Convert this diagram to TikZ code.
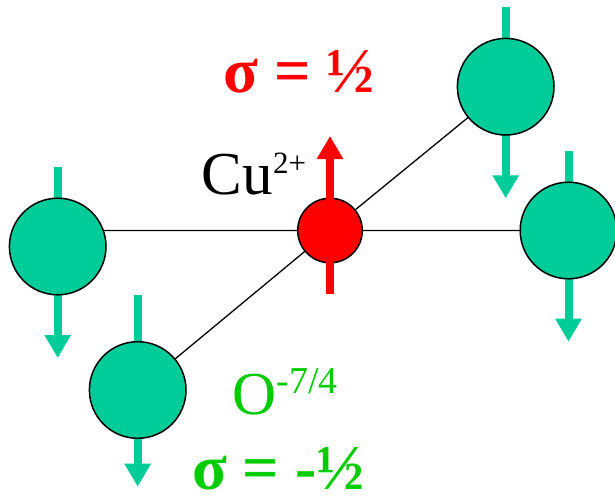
\documentclass[tikz,border=0pt]{standalone}
\usepackage{fontspec}
\setmainfont{Liberation Serif}
\usetikzlibrary{arrows.meta,calc,backgrounds}
\definecolor{oxfill}{RGB}{0,204,153}
\definecolor{oxtext}{RGB}{0,204,0}

\begin{document}
\begin{tikzpicture}[x=1pt, y=-1pt,
  oxygen/.style={circle, draw, line width=1.5pt, fill=oxfill, minimum size=96.6pt, inner sep=0pt},
  copper/.style={circle, draw, line width=1.5pt, fill=red, minimum size=64.6pt, inner sep=0pt},
  bond/.style={line width=1.3pt},
  spin/.style={line width=8pt, -{Triangle[length=23pt, width=25pt]}},
  ion/.style={font=\fontsize{61}{62}\selectfont, anchor=base, inner sep=0pt},
  spinlbl/.style={font=\bfseries\fontsize{64}{66}\selectfont, anchor=base, inner sep=0pt}]
\useasboundingbox (0,0) rectangle (615,495);
\node[copper] (cu) at (330,230.5) {};
\node[oxygen] (ol) at (57.7,246.5) {};
\node[oxygen] (obl) at (137.7,390) {};
\node[oxygen] (otr) at (505.7,86.7) {};
\node[oxygen] (or) at (568.5,230.5) {};
\begin{scope}[on background layer]
\draw[bond] (cu.center) -- (cu -| ol.center)
(cu.center) -- (or.center)
(cu.center) -- (otr.center)
(cu.center) -- (obl.center);
\draw[spin, oxfill] ($(ol)+(0,-79.5)$) -- ($(ol)+(0,111.5)$);
\draw[spin, oxfill] ($(obl)+(0,-95)$) -- ($(obl)+(0,96.7)$);
\draw[spin, oxfill] ($(otr)+(0,-80)$) -- ($(otr)+(0,111.6)$);
\draw[spin, oxfill] ($(or)+(0,-79.5)$) -- ($(or)+(0,111.2)$);
\end{scope}
\draw[spin, red] ($(cu)+(0,63.5)$) -- ($(cu)+(0,-94.5)$);
\node[spinlbl, red] (spinup) at (299,92.5) {σ = ½};
\node[ion] (culbl) at (254,194) {Cu\raisebox{20.5pt}{\fontsize{31}{31}\selectfont 2+}};
\node[ion, oxtext] (olbl) at (285,414) {O\raisebox{20.7pt}{\fontsize{38}{38}\selectfont -7/4}};
\node[spinlbl, oxtext] (spindown) at (278.3,489) {σ = -½};
\end{tikzpicture}
\end{document}
